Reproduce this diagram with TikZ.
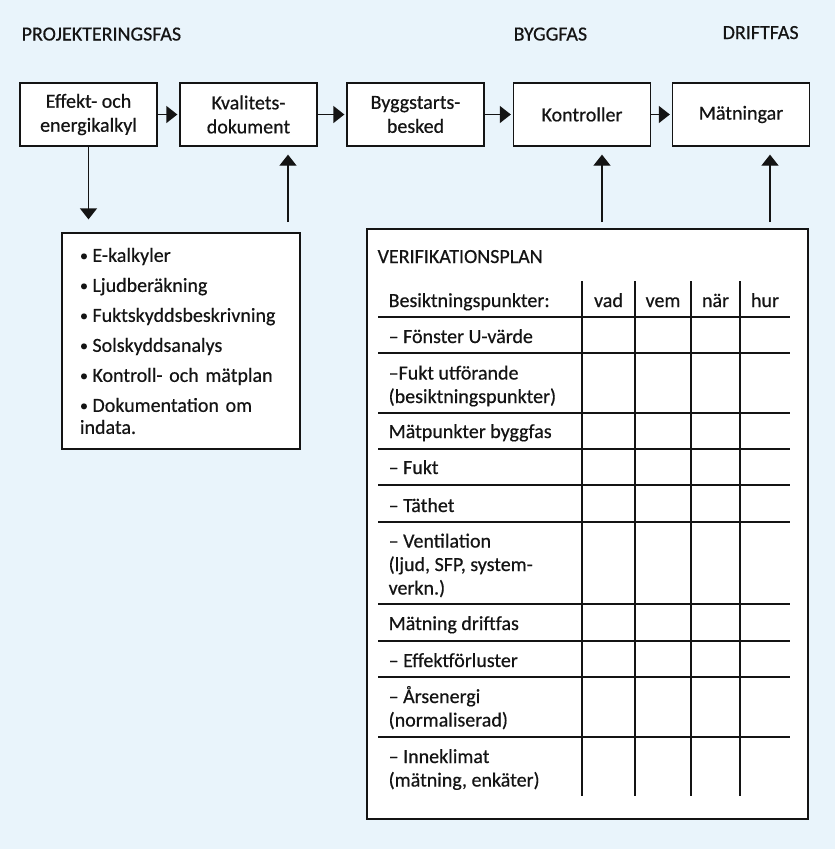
\documentclass[tikz,border=0pt]{standalone}
\usepackage{fontspec}
\setmainfont{Carlito}[UprightFeatures={RawFeature={embolden=0.5}}]
\usetikzlibrary{arrows.meta}
\definecolor{planbg}{RGB}{233,244,251}
\definecolor{ink}{RGB}{20,20,20}
\newcommand{\punkt}{{\fontsize{16}{16}\selectfont\raisebox{1pt}{•}}\hspace{4.5pt}}

\begin{document}
\begin{tikzpicture}[x=1pt, y=-1pt, line width=1.3pt, ink,
  every node/.style={font=\fontsize{20}{24}\selectfont, text=ink},
  stepbox/.style={draw, fill=white, minimum width=137pt, minimum height=63pt, align=center, inner sep=0pt},
  flow/.style={-{Triangle[length=11pt,width=17pt]}},
  phase/.style={anchor=base west, inner sep=0pt},
  cell/.style={anchor=base west, align=left, inner sep=0pt, font=\fontsize{20}{23.5}\selectfont}]
% Background
\fill[planbg] (0,0) rectangle (835,849);

% Phases
\node[phase] (proj) at (21,40.5) {PROJEKTERINGSFAS};
\node[phase] (bygg) at (513,40.5) {BYGGFAS};
\node[phase] (drift) at (722,39) {DRIFTFAS};

% Process chain
\node[stepbox] (effekt) at (88.5,114.5) {Effekt- och\\energikalkyl};
\node[stepbox] (kval) at (248.5,114.5) {Kvalitets-\\dokument};
\node[stepbox] (start) at (415.5,114.5) {Byggstarts-\\besked};
\node[stepbox] (kontr) at (582,114.5) {Kontroller};
\node[stepbox] (matn) at (741,114.5) {Mätningar};

\foreach \a/\b in {effekt/kval, kval/start, start/kontr, kontr/matn}
    \draw[flow, shorten >=2pt] (\a.east) -- (\b.west);

% Documents list
\node[draw, fill=white, text width=202pt, inner xsep=18pt, inner ysep=0pt,
      minimum height=216pt, align=left, font=\fontsize{20}{22}\selectfont]
      (liste) at (181,341) {\punkt E-kalkyler\\[8pt]
      \punkt Ljudberäkning\\[8pt]
      \punkt Fuktskyddsbeskrivning\\[8pt]
      \punkt Solskyddsanalys\\[8pt]
      \punkt Kontroll- och mätplan\\[8pt]
      \punkt Dokumentation om\\indata.};

% Verification plan
\node[draw, fill=white, minimum width=441pt, minimum height=590pt, inner sep=0pt] (plan) at (587.5,524) {};
\node[phase] (vtitle) at (377,263) {VERIFIKATIONSPLAN};

\coordinate (lout) at (288,222);
\coordinate (kin) at (602,222);
\coordinate (min) at (770,222);
\draw[flow, shorten >=13pt] (effekt.south) -- (effekt.south |- liste.north);
\draw[flow, shorten >=8pt] (lout) -- (lout |- kval.south);
\draw[flow, shorten >=8pt] (kin) -- (kin |- kontr.south);
\draw[flow, shorten >=8pt] (min) -- (min |- matn.south);

% Table grid
\foreach \y in {317,353,413,449,485,522,604,641,677,737}
    \draw (378,\y) -- (790,\y);
\foreach \x in {582,635,691,740}
    \draw (\x,281) -- (\x,796);

\foreach \x/\t [count=\i] in {608.5/vad, 663/vem, 715.5/när, 765/hur}
    \node[anchor=base, inner sep=0pt] (col\i) at (\x,307) {\t};

% rows (y = baseline of the last line)
\foreach \y/\t [count=\i] in {307/Besiktningspunkter:, 343/– Fönster U-värde,
    403/{–Fukt utförande\\(besiktningspunkter)}, 438/Mätpunkter byggfas,
    474/– Fukt, 512/– Täthet, 594.5/{– Ventilation\\(ljud, SFP, system-\\verkn.)},
    630/Mätning driftfas, 667/– Effektförluster, 726.5/{– Årsenergi\\(normaliserad)},
    786.5/{– Inneklimat\\(mätning, enkäter)}}
    \node[cell] (row\i) at (388,\y) {\t};
\end{tikzpicture}
\end{document}
